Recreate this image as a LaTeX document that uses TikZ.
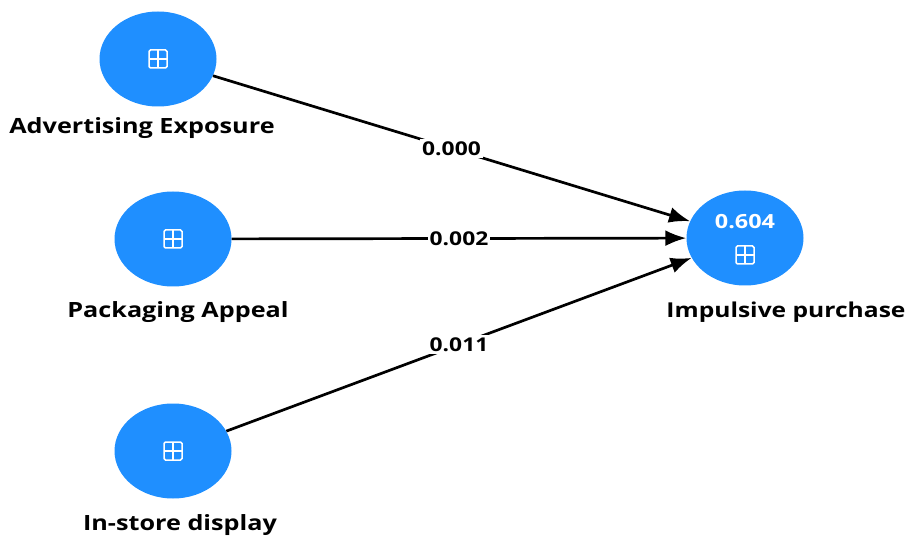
\documentclass[tikz,border=0pt]{standalone}
\usepackage{fontspec}
\setmainfont{Open Sans}
\newfontfamily\widefont[FakeStretch=1.2]{Open Sans}
\usetikzlibrary{shapes.geometric,arrows.meta}
\definecolor{lvblue}{HTML}{1F8FFF}
\tikzset{
  lv/.style={ellipse, fill=lvblue, draw=none, minimum width=117pt, minimum height=95pt, inner sep=0pt},
  lvname/.style={font=\widefont\fontsize{21}{24}\selectfont\bfseries, text=black, inner sep=0pt},
  path/.style={line width=2.7pt, draw=black, -{Latex[length=21pt,width=16pt]}},
  coef/.style={font=\widefont\fontsize{19}{22}\selectfont\bfseries, fill=white, inner sep=2pt, midway},
  icon/.style={draw=white, line width=1.5pt, rounded corners=1.5pt, minimum size=18pt, inner sep=0pt,
    path picture={\draw[white, line width=1.5pt] (path picture bounding box.north) -- (path picture bounding box.south)
      (path picture bounding box.west) -- (path picture bounding box.east);}}
}
\begin{document}
\begin{tikzpicture}[x=1pt,y=-1pt]
\useasboundingbox[fill=white] (0,0) rectangle (908,540);
\node[lv] (AE) at (158,59) {};
\node[lv] (PA) at (173,239) {};
\node[lv] (ISD) at (173,451) {};
\node[lv] (IP) at (745,238) {};
\node[icon] (iAE) at (158,59) {};
\node[icon] (iPA) at (173,239) {};
\node[icon] (iISD) at (173,451) {};
\node[icon] (iIP) at (745,255) {};
\node[font=\widefont\fontsize{19.5}{22}\selectfont\bfseries, text=white, inner sep=0pt] (r2) at (745,222) {0.604};
\node[lvname] (tAE) at (142,128) {Advertising Exposure};
\node[lvname] (tPA) at (178,312) {Packaging Appeal};
\node[lvname] (tISD) at (180,525) {In-store display};
\node[lvname, font=\widefont\fontsize{20.5}{24}\selectfont\bfseries] (tIP) at (786,312) {Impulsive purchase};
\draw[path] (AE) -- node[coef] (c1) {0.000} (IP);
\draw[path] (PA) -- node[coef] (c2) {0.002} (IP);
\draw[path] (ISD) -- node[coef] (c3) {0.011} (IP);
\end{tikzpicture}
\end{document}
